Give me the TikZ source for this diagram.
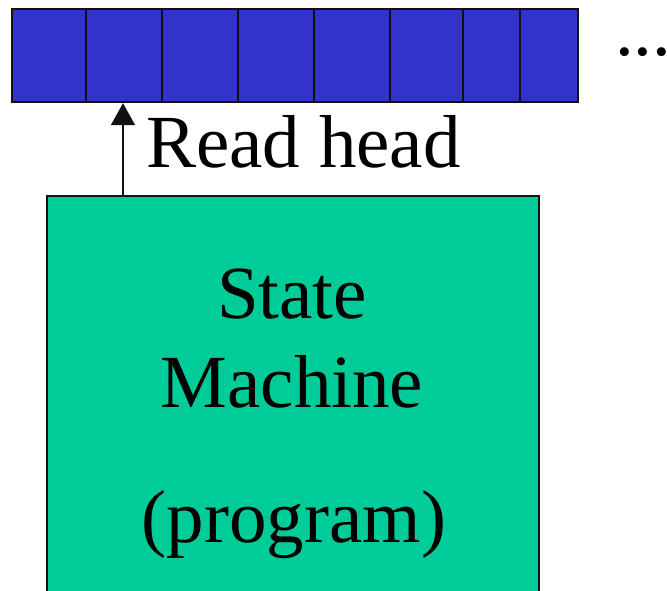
\documentclass[tikz,border=0pt]{standalone}
\usepackage{fontspec}
\setmainfont{Liberation Serif}
\usetikzlibrary{arrows.meta}
\definecolor{tapeblue}{HTML}{3333CC}
\definecolor{smgreen}{HTML}{00CC99}
\definecolor{edge}{HTML}{111111}
\begin{document}
\begin{tikzpicture}[x=1pt,y=-1pt,
  cell/.style={draw=edge,fill=tapeblue,line width=2.2pt,inner sep=0pt,anchor=north west},
  bigtext/.style={font=\fontsize{75}{90}\selectfont,inner sep=0pt,text=black},
  headarrow/.style={draw=edge,line width=1.6pt,-{Triangle[width=24pt,length=22pt]}}]
\useasboundingbox (0,0) rectangle (667,590);
\clip (0,0) rectangle (667,590);
% tape cells
\foreach \n/\a/\b in {1/11/85,2/85/161,3/161/237,4/237/313,5/313/389,6/389/462,7/462/519,8/519/577}{
  \pgfmathsetmacro{\w}{\b-\a}
  \node[cell,minimum width=\w pt,minimum height=93pt] (c\n) at (\a,8) {};
}
\node[bigtext,anchor=base west] (dots) at (615,55) {...};
% state machine box
\node[draw=edge,fill=smgreen,line width=2.2pt,inner sep=0pt,anchor=north west,
      minimum width=492pt,minimum height=420pt] (sm) at (46,195) {};
\node[bigtext,anchor=base] (t1) at (292,318) {State};
\node[bigtext,anchor=base] (t2) at (292,407) {Machine};
\node[bigtext,anchor=base] (t3) at (294,542) {(program)};
% read head
\coordinate (hx) at (123,0);
\draw[headarrow] (sm.north -| hx) -- (c2.south -| hx);
\node[bigtext,anchor=base west] (rh) at (146,167) {Read head};
\end{tikzpicture}
\end{document}
